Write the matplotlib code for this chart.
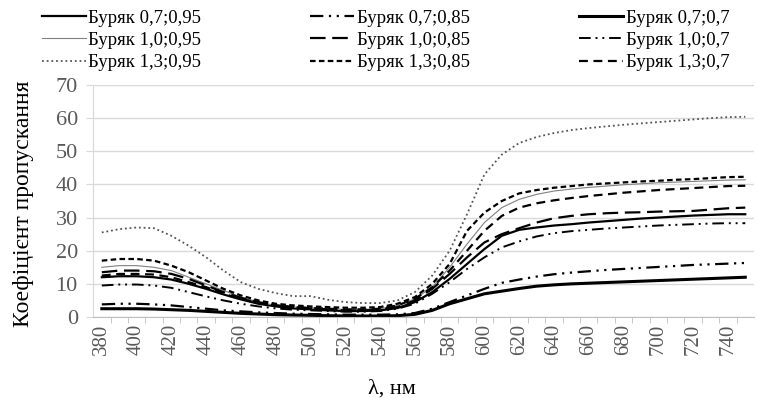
import numpy as np
import matplotlib
matplotlib.use("Agg")
import matplotlib.pyplot as plt

plt.rcParams['font.family'] = ['Liberation Serif', 'DejaVu Serif']

wavelength = np.arange(380, 751, 10)

# transmission, %
b07_095 = [12, 12.3, 12.3, 12, 11.3, 10, 8.5, 6.8, 5.3, 4, 3.2, 2.6, 2.3, 2, 1.8, 1.8, 2, 2.7, 4.5,
           7.5, 11.5, 16, 20.5, 24.5, 26.3, 27, 27.6, 28, 28.5, 28.9, 29.3, 29.7, 30, 30.3, 30.6, 30.8, 31, 31]
b10_095 = [15, 15.5, 15.5, 15, 14, 12, 10, 8, 6, 4.5, 3.5, 3, 2.8, 2.5, 2.3, 2.3, 2.5, 3.5, 5.5,
           9, 15, 22, 28.5, 33, 35.5, 37, 38, 38.6, 39.1, 39.5, 39.9, 40.2, 40.5, 40.7, 40.9, 41.1, 41.3, 41.4]
b13_095 = [25.5, 26.5, 27, 26.8, 24.5, 21.5, 18, 14, 10.5, 8.5, 7.2, 6.3, 6.3, 5.2, 4.5, 4.2, 4.2, 5, 7.5,
           12.5, 20, 31, 43, 49, 52.5, 54.3, 55.5, 56.4, 57, 57.5, 58, 58.4, 58.8, 59.2, 59.6, 60, 60.3, 60.4]
b07_085 = [3.8, 4, 4, 3.8, 3.5, 3, 2.5, 2, 1.7, 1.4, 1.2, 1, 0.9, 0.8, 0.7, 0.7, 0.7, 0.8, 1.2,
           2.5, 4.5, 6.5, 8.5, 10.3, 11.3, 12.2, 12.9, 13.4, 13.8, 14.2, 14.5, 14.8, 15.1, 15.4, 15.7, 15.9, 16.1, 16.3]
b10_085 = [13.5, 14, 14, 13.8, 13, 11.5, 9.5, 7.5, 5.8, 4.5, 3.5, 3, 2.6, 2.3, 2, 2, 2.2, 3, 5,
           8.5, 13, 18, 22.5, 25, 26.8, 28.5, 29.8, 30.5, 31, 31.3, 31.5, 31.6, 31.8, 31.9, 32, 32.4, 32.8, 33]
b13_085 = [17, 17.5, 17.5, 17, 15.5, 13.5, 11, 8.5, 6.5, 5, 4, 3.5, 3.2, 3, 2.8, 2.8, 3, 4, 6,
           10, 16, 26, 31.5, 35, 37.3, 38.3, 39, 39.5, 40, 40.3, 40.6, 40.9, 41.1, 41.4, 41.6, 41.9, 42.2, 42.3]
b07_07 = [2.5, 2.5, 2.5, 2.4, 2.2, 2, 1.7, 1.4, 1.1, 0.9, 0.7, 0.6, 0.5, 0.4, 0.3, 0.3, 0.3, 0.4, 0.8,
          2, 4, 5.5, 7, 7.8, 8.6, 9.3, 9.7, 10, 10.2, 10.4, 10.6, 10.8, 11, 11.2, 11.4, 11.6, 11.8, 12]
b10_07 = [9.5, 9.8, 9.8, 9.5, 8.8, 7.5, 6.2, 5, 4, 3.2, 2.6, 2.2, 2, 1.8, 1.6, 1.6, 1.8, 2.5, 4,
          7, 10.5, 14.5, 18, 21, 22.8, 24.3, 25.3, 25.9, 26.3, 26.7, 27, 27.3, 27.6, 27.8, 28, 28.2, 28.3, 28.3]
b13_07 = [12.5, 13, 13, 12.8, 12, 10.5, 9, 7, 5.5, 4.3, 3.5, 3, 2.7, 2.5, 2.3, 2.3, 2.5, 3.5, 5.5,
          9, 14, 20, 26, 30.5, 33, 34.3, 35.2, 35.9, 36.5, 37, 37.5, 37.9, 38.3, 38.6, 38.9, 39.2, 39.5, 39.6]

# column-major order so the 3-column legend reads like the original
series = [
    ("Буряк 0,7;0,95", b07_095, dict(color="black", lw=1.6, ls="-")),
    ("Буряк 1,0;0,95", b10_095, dict(color="#808080", lw=0.8, ls="-")),
    ("Буряк 1,3;0,95", b13_095, dict(color="#555555", lw=1.3, ls=(0, (1, 1.6)))),
    ("Буряк 0,7;0,85", b07_085, dict(color="black", lw=1.6, ls=(0, (6, 2.5, 1, 2.5, 1, 2.5)))),
    ("Буряк 1,0;0,85", b10_085, dict(color="black", lw=1.6, ls=(0, (7, 3)))),
    ("Буряк 1,3;0,85", b13_085, dict(color="black", lw=1.6, ls=(0, (2.5, 1.5)))),
    ("Буряк 0,7;0,7", b07_07, dict(color="black", lw=2.2, ls="-")),
    ("Буряк 1,0;0,7", b10_07, dict(color="black", lw=1.4, ls=(0, (6, 2.5, 1, 2.5, 1, 2.5)))),
    ("Буряк 1,3;0,7", b13_07, dict(color="black", lw=1.6, ls=(0, (4, 2.5)))),
]

fig = plt.figure(figsize=(7.57, 3.98), dpi=100)
ax = fig.add_axes([0.123, 0.2035, 0.873, 0.583])

for name, vals, style in series:
    ax.plot(wavelength, vals, label=name, **style)

ax.set_xlim(375, 755)
ax.set_ylim(0, 70)
ax.set_yticks(np.arange(0, 71, 10))
ax.set_xticks(np.arange(380, 741, 20))
ax.set_xticklabels([str(v) for v in range(380, 741, 20)], rotation=90)
ax.set_xticks(np.arange(385, 755, 10), minor=True)
ax.tick_params(axis='x', which='major', length=0, pad=5, labelsize=15, labelcolor="#595959")
ax.tick_params(axis='x', which='minor', length=4, color="#bfbfbf")
ax.tick_params(axis='y', length=5, color="#d9d9d9", pad=6, labelsize=16, labelcolor="#595959")

ax.grid(axis='y', color="#d9d9d9", lw=1)
ax.set_axisbelow(True)
for side in ["top", "right"]:
    ax.spines[side].set_visible(False)
ax.spines["left"].set_color("#d9d9d9")
ax.spines["bottom"].set_color("#bfbfbf")

ax.set_xlabel("λ, нм", fontsize=16)
ax.xaxis.set_label_coords(0.452, -0.27)
ax.set_ylabel("Коефіцієнт пропускання", fontsize=17)
ax.yaxis.set_label_coords(-0.089, 0.49)

fig.legend(loc="upper left", bbox_to_anchor=(0.045, 0.995), ncol=3, frameon=False,
           fontsize=13.5, handlelength=2.35, handletextpad=0.15, columnspacing=5.8,
           labelspacing=0.28, borderaxespad=0)

fig.savefig("out.png", dpi=100)
